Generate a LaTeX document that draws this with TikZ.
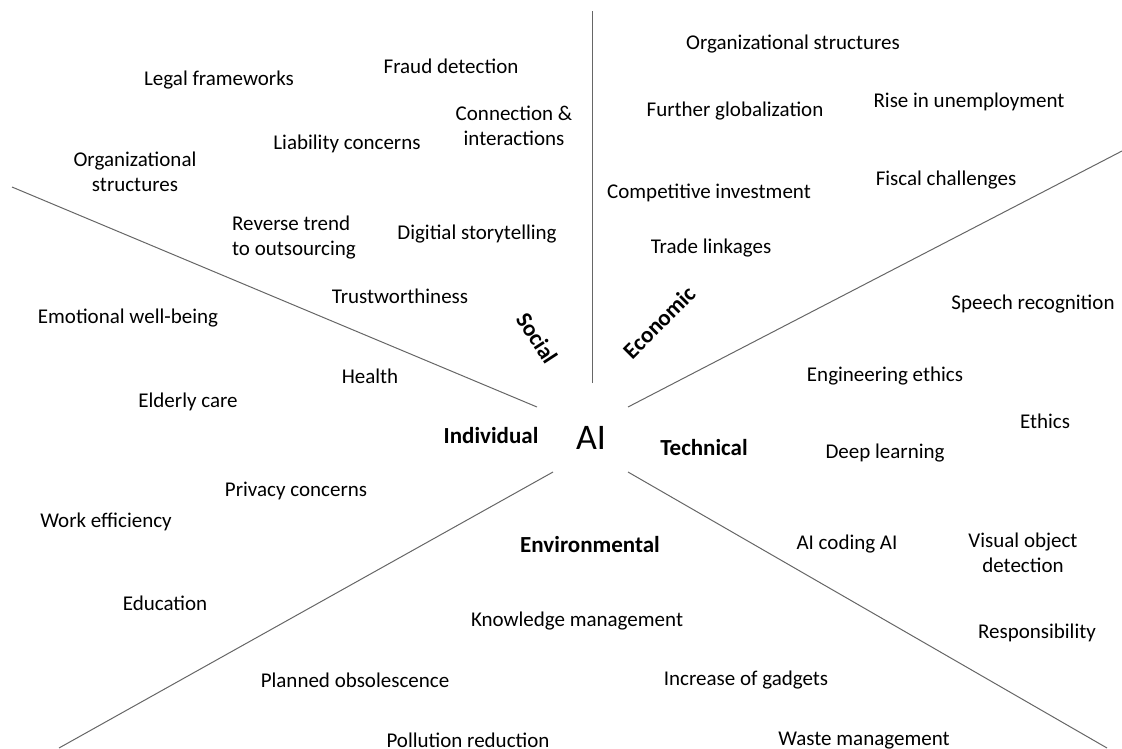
\documentclass[tikz,border=0pt]{standalone}
\usepackage{fontspec}
\setmainfont{Carlito}
\begin{document}
\begin{tikzpicture}[x=1pt,y=-1pt,
  lbl/.style={font=\fontsize{21}{25}\selectfont, inner sep=0pt, align=center, yshift=-1.5pt},
  lbll/.style={font=\fontsize{21}{25}\selectfont, inner sep=0pt, align=left, yshift=-1.5pt},
  dim/.style={font=\fontsize{23}{27}\selectfont\bfseries, inner sep=0pt},
  sep/.style={draw=black!60, line width=1pt}]
\useasboundingbox (0,0) rectangle (1122,748);
% separator coordinates
\coordinate (vA) at (592,383); \coordinate (vB) at (592,11);
\coordinate (ulA) at (537,407); \coordinate (ulB) at (12,187);
\coordinate (urA) at (628,407); \coordinate (urB) at (1122,151);
\coordinate (llA) at (553,472); \coordinate (llB) at (59,748);
\coordinate (lrA) at (628,472); \coordinate (lrB) at (1107,748);
\draw[sep] (vA) -- (vB);
\draw[sep] (ulA) -- (ulB);
\draw[sep] (urA) -- (urB);
\draw[sep] (llA) -- (llB);
\draw[sep] (lrA) -- (lrB);
% centre
\node[inner sep=0pt, font=\fontsize{36}{40}\selectfont] (ai) at (591,438) {AI};
% dimension labels
\node[dim, rotate=-57] (social) at (537,338) {Social};
\node[dim, rotate=45] (economic) at (659,322) {Economic};
\node[dim] (individual) at (491,436) {Individual};
\node[dim] (technical) at (704,448) {Technical};
\node[dim] (environmental) at (590,545) {Environmental};
% social
\node[lbl] (legal) at (219,79) {Legal frameworks};
\node[lbl] (fraud) at (451,65) {Fraud detection};
\node[lbl] (conn) at (514,124.5) {Connection \&\\interactions};
\node[lbl] (liab) at (347,142) {Liability concerns};
\node[lbl] (orgl) at (135,170) {Organizational\\structures};
\node[lbll] (rev) at (294,236) {Reverse trend\\to outsourcing};
\node[lbl] (digi) at (477,233) {Digitial storytelling};
\node[lbl] (trust) at (400,295) {Trustworthiness};
% economic
\node[lbl] (orgr) at (793,43) {Organizational structures};
\node[lbl] (glob) at (735,110) {Further globalization};
\node[lbl] (unemp) at (969,100) {Rise in unemployment};
\node[lbl] (comp) at (709,191) {Competitive investment};
\node[lbl] (fisc) at (946,179) {Fiscal challenges};
\node[lbl] (trade) at (711,247) {Trade linkages};
% technical
\node[lbl] (speech) at (1033,303) {Speech recognition};
\node[lbl] (eng) at (885,375) {Engineering ethics};
\node[lbl] (ethics) at (1045,420) {Ethics};
\node[lbl] (deep) at (885,452) {Deep learning};
\node[lbl] (coding) at (847,543) {AI coding AI};
\node[lbl] (visual) at (1023,551) {Visual object\\detection};
\node[lbl] (resp) at (1037,631) {Responsibility};
% individual
\node[lbl] (emo) at (128,317) {Emotional well-being};
\node[lbl] (health) at (370,375) {Health};
\node[lbl] (elder) at (188,400) {Elderly care};
\node[lbl] (priv) at (296,489) {Privacy concerns};
\node[lbl] (work) at (106,520) {Work efficiency};
\node[lbl] (edu) at (165,602) {Education};
% environmental
\node[lbl] (know) at (577,620) {Knowledge management};
\node[lbl] (planned) at (355,679) {Planned obsolescence};
\node[lbl] (gadg) at (746,679) {Increase of gadgets};
\node[lbl] (poll) at (468,739) {Pollution reduction};
\node[lbl] (waste) at (864,739) {Waste management};
\end{tikzpicture}
\end{document}
